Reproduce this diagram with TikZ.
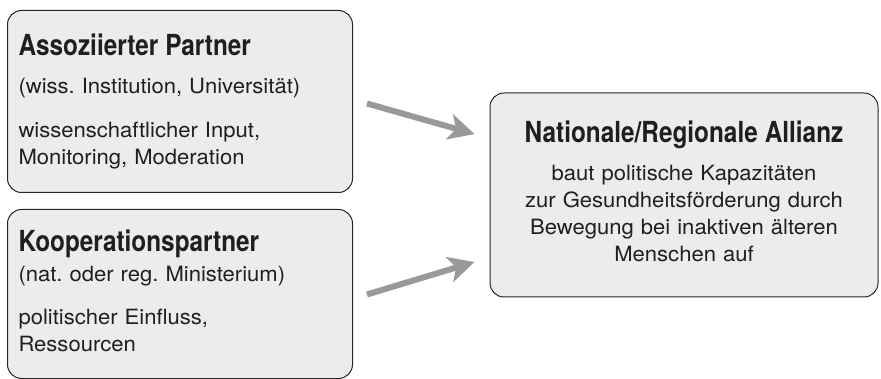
\documentclass[tikz,border=0pt]{standalone}
\usepackage{fontspec}
\setmainfont[FakeStretch=1.05]{TeX Gyre Heros}
\newfontfamily\headfont[FakeStretch=0.84]{TeX Gyre Heros}
\usetikzlibrary{arrows.meta, positioning}
\definecolor{boxgray}{RGB}{236,236,236}
\definecolor{arrowgray}{RGB}{153,153,153}
\newcommand{\boxhead}[1]{{\headfont\bfseries\fontsize{29}{34}\selectfont #1}}
\newcommand{\lowstrut}[1]{\rule[-#1]{0pt}{#1}}
\frenchspacing

\begin{document}
\begin{tikzpicture}[x=1pt, y=-1pt,
  box/.style={draw=black!85, line width=1pt, fill=boxgray, rounded corners=14pt,
    font=\fontsize{21}{27}\selectfont, text=black!88, inner xsep=11pt, inner ysep=0pt},
  flow/.style={arrowgray, line width=6pt, -{Stealth[length=26pt, width=26pt, inset=7pt]}}]
\useasboundingbox (0,0) rectangle (881,379);
% partner boxes on the left
\node (assoc) [box, anchor=north west, minimum height=182pt, text width=323pt, align=left] at (7,10) {%
\boxhead{Assoziierter Partner}\\[11pt]
(wiss. Institution, Universität)\\[17pt]
wissenschaftlicher Input,\\
Monitoring, Moderation};
\node (koop) [box, below=16pt of assoc, minimum height=169pt, text width=323pt, align=left] {%
\boxhead{Kooperationspartner}\\[3pt]
(nat. oder reg. Ministerium)\\[16pt]
politischer Einfluss,\\
Ressourcen\lowstrut{6pt}};
% alliance box
\node (allianz) [box, minimum height=204pt, text width=366pt, align=center] at (684,195) {%
\boxhead{Nationale/Regionale Allianz}\\[11pt]
baut politische Kapazitäten\\
zur Gesundheitsförderung durch\\
Bewegung bei inaktiven älteren\\
Menschen auf\lowstrut{8pt}};
\draw [flow] ([xshift=14pt, yshift=-2pt]assoc.east) -- ([xshift=-15pt, yshift=61pt]allianz.west);
\draw [flow] ([xshift=14pt, yshift=-0.5pt]koop.east) -- ([xshift=-15pt, yshift=-67pt]allianz.west);
\end{tikzpicture}
\end{document}
